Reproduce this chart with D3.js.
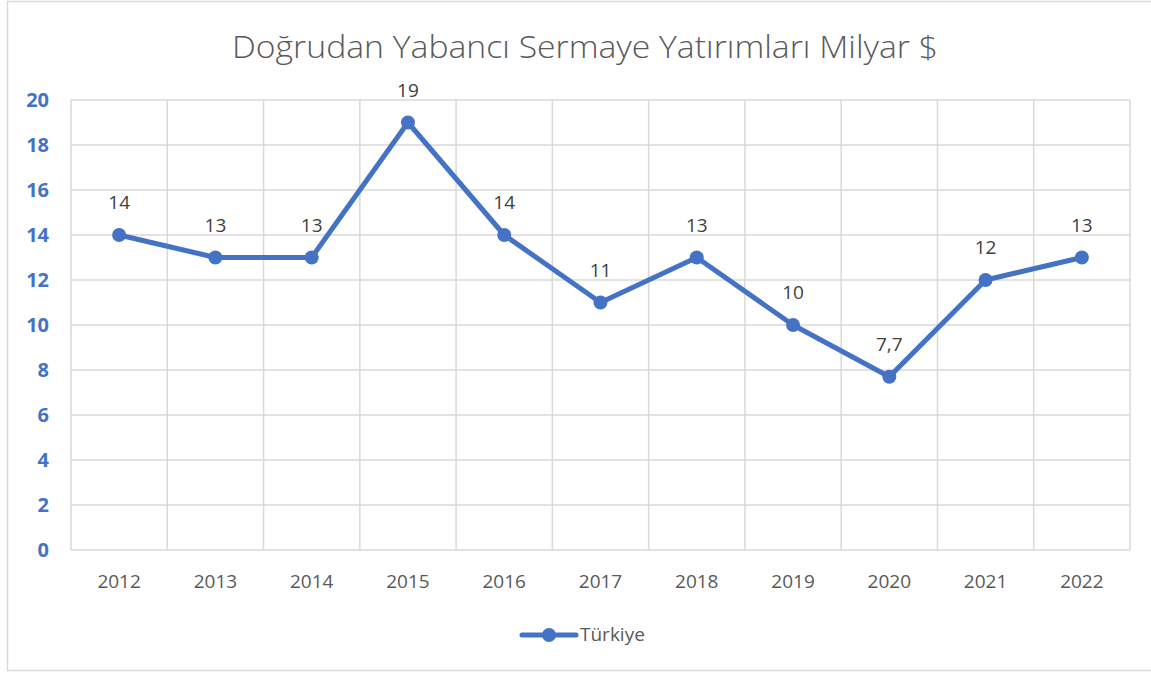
<!DOCTYPE html>
<html>
<head>
<meta charset="utf-8">
<script src="https://cdn.jsdelivr.net/npm/d3@7/dist/d3.min.js"></script>
<style>
  body { margin: 0; background: #fff; }
  text { font-family: "Open Sans", "Liberation Sans", sans-serif; }
</style>
</head>
<body>
<div id="chart"></div>
<script>
var years = ["2012", "2013", "2014", "2015", "2016", "2017", "2018", "2019", "2020", "2021", "2022"];
var values = [14, 13, 13, 19, 14, 11, 13, 10, 7.7, 12, 13];
var yTicks = [0, 2, 4, 6, 8, 10, 12, 14, 16, 18, 20];
var seriesName = "Türkiye";
var title = "Doğrudan Yabancı Sermaye Yatırımları Milyar $";

var width = 1151,
    height = 673,
    blue = '#4472C4';

var svg = d3.select('#chart').append('svg')
    .attr('width', width)
    .attr('height', height);

// chart frame
svg.append('rect')
    .attr('x', 7.5).attr('y', 1.5)
    .attr('width', 1160).attr('height', 669)
    .attr('fill', 'none')
    .attr('stroke', '#d9d9d9')
    .attr('stroke-width', 1.5);

var x = d3.scaleBand()
    .domain(years)
    .range([71, 1130])
    .paddingInner(0);

var y = d3.scaleLinear()
    .domain([0, 20])
    .range([550, 100]);

// horizontal grid
svg.selectAll('.hgrid').data(yTicks)
  .enter().append('line')
    .attr('x1', 71).attr('x2', 1130)
    .attr('y1', function (d) { return y(d); })
    .attr('y2', function (d) { return y(d); })
    .attr('stroke', '#d9d9d9')
    .attr('stroke-width', 1.5);

// vertical grid at category edges
var edges = years.map(function (d) { return x(d); }).concat([x.range()[1]]);
svg.selectAll('.vgrid').data(edges)
  .enter().append('line')
    .attr('x1', function (d) { return d; })
    .attr('x2', function (d) { return d; })
    .attr('y1', 100).attr('y2', 550)
    .attr('stroke', '#d9d9d9')
    .attr('stroke-width', 1.5);

// y labels
svg.selectAll('.ylab').data(yTicks)
  .enter().append('text')
    .attr('x', 49)
    .attr('y', function (d) { return y(d); })
    .attr('dy', '0.36em')
    .attr('text-anchor', 'end')
    .attr('font-size', 20)
    .attr('font-weight', 'bold')
    .attr('fill', blue)
    .text(function (d) { return d; });

// x labels
svg.selectAll('.xlab').data(years)
  .enter().append('text')
    .attr('x', function (d) { return x(d) + x.bandwidth() / 2; })
    .attr('y', 588)
    .attr('text-anchor', 'middle')
    .attr('font-size', 19)
    .attr('fill', '#595959')
    .text(function (d) { return d; });

// title
svg.append('text')
    .attr('x', 585)
    .attr('y', 58)
    .attr('text-anchor', 'middle')
    .attr('font-size', 31)
    .attr('font-weight', 300)
    .attr('fill', '#595959')
    .attr('textLength', 706)
    .attr('lengthAdjust', 'spacingAndGlyphs')
    .text(title);

var cx = function (d, i) { return x(years[i]) + x.bandwidth() / 2; };

var line = d3.line()
    .x(function (d, i) { return cx(d, i); })
    .y(function (d) { return y(d); });

svg.append('path')
    .datum(values)
    .attr('d', line)
    .attr('fill', 'none')
    .attr('stroke', blue)
    .attr('stroke-width', 5)
    .attr('stroke-linejoin', 'round')
    .attr('stroke-linecap', 'round');

svg.selectAll('.dot').data(values)
  .enter().append('circle')
    .attr('cx', cx)
    .attr('cy', function (d) { return y(d); })
    .attr('r', 7)
    .attr('fill', blue);

// data labels
svg.selectAll('.dlab').data(values)
  .enter().append('text')
    .attr('x', cx)
    .attr('y', function (d) { return y(d) - 26; })
    .attr('text-anchor', 'middle')
    .attr('font-size', 19)
    .attr('fill', '#404040')
    .text(function (d) { return String(d).replace('.', ','); });

// legend
var lg = svg.append('g');
lg.append('line')
    .attr('x1', 522).attr('x2', 576)
    .attr('y1', 635).attr('y2', 635)
    .attr('stroke', blue)
    .attr('stroke-width', 5)
    .attr('stroke-linecap', 'round');
lg.append('circle')
    .attr('cx', 549).attr('cy', 635)
    .attr('r', 7)
    .attr('fill', blue);
lg.append('text')
    .attr('x', 580).attr('y', 641)
    .attr('font-size', 19)
    .attr('fill', '#595959')
    .text(seriesName);
</script>
</body>
</html>
